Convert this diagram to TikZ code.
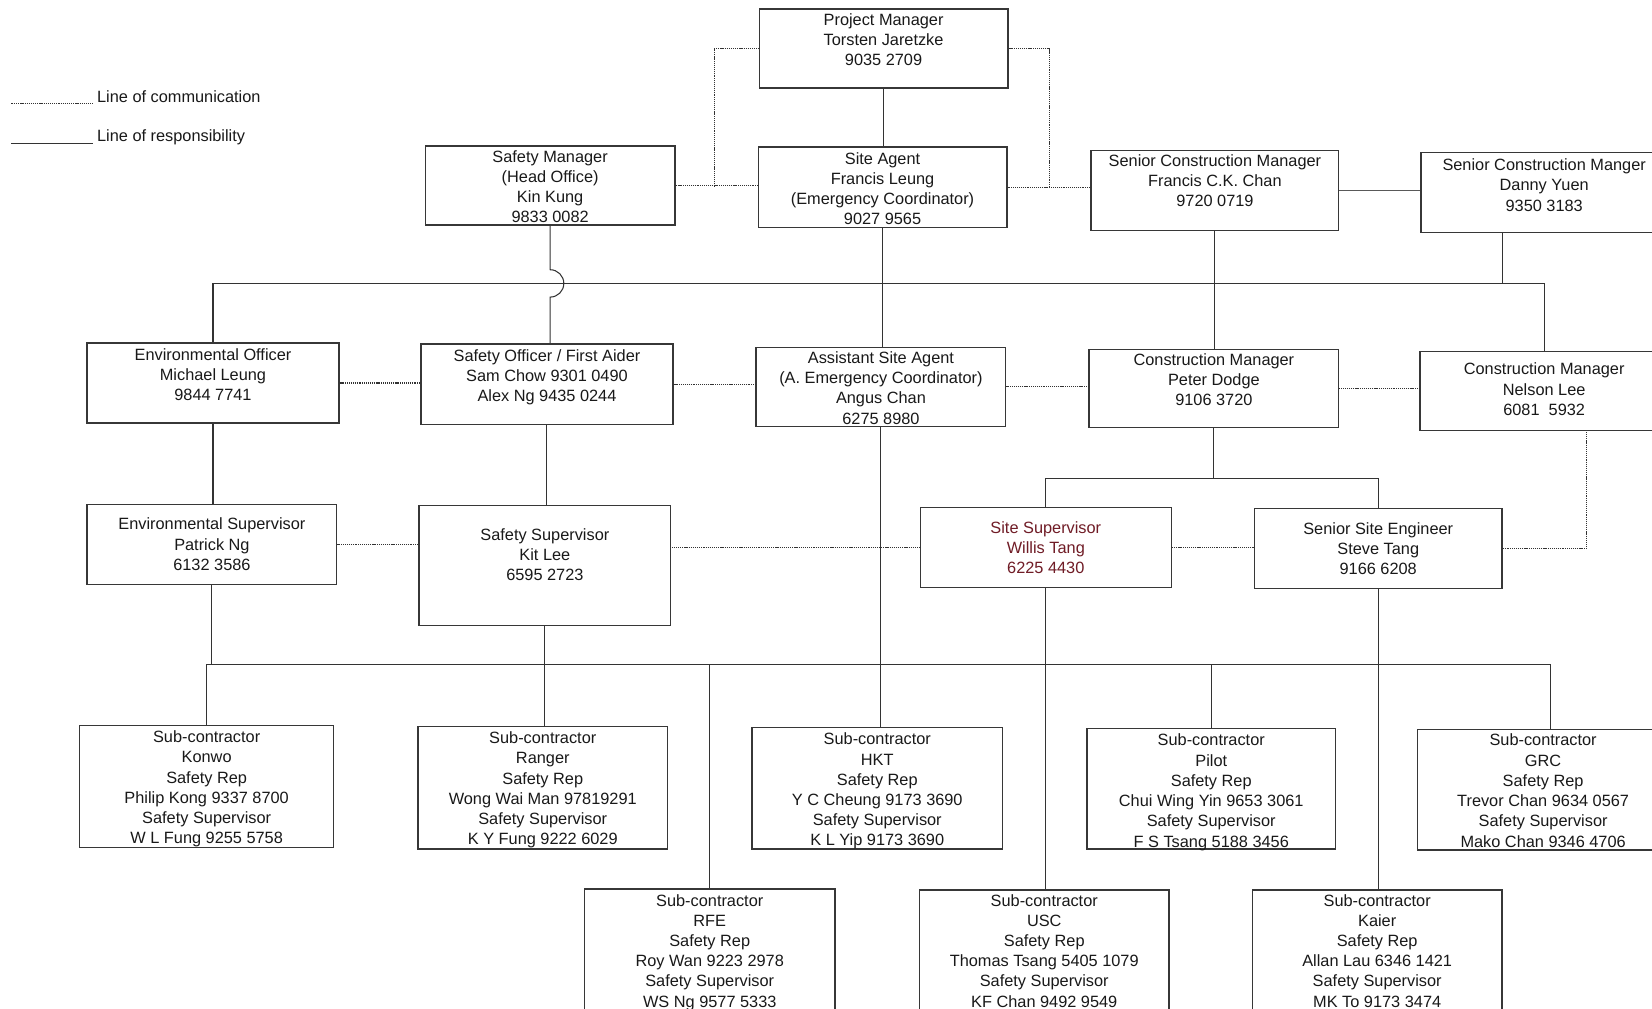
\documentclass[tikz,border=0pt]{standalone}
\usepackage{fontspec}
\setmainfont{Liberation Sans}
\definecolor{boxline}{RGB}{55,55,55}
\definecolor{supred}{RGB}{112,28,38}
\tikzset{
  box/.style 2 args={draw=boxline, line width=1.3pt, anchor=north west, inner sep=0pt,
    minimum width=#1, minimum height=#2},
  txt/.style={anchor=north, align=center, inner sep=0pt, yshift=-2.5pt, text=black!90,
    font=\fontsize{15.5}{19.2}\selectfont, execute at begin node=\strut},
  lbl/.style={anchor=base west, inner sep=0pt, text=black!90, font=\fontsize{15.5}{19.2}\selectfont},
  resp/.style={draw=black!80, line width=1pt},
  comm/.style={draw=black!80, line width=1.2pt, dash pattern=on 1pt off 0.8pt},
}
\begin{document}
\begin{tikzpicture}[x=1pt,y=-1pt]
    \clip (0,0) rectangle (1568,957);
    \fill[white] (0,0) rectangle (1568,957);

    % legend
    \node[lbl] (lcom) at (92,97) {Line of communication};
    \node[lbl] (lres) at (92,134) {Line of responsibility};
    \draw[comm] ([xshift=-4pt,yshift=-1.5pt]lcom.base west) -- ++(-78,0);
    \draw[resp] ([xshift=-4pt,yshift=-2pt]lres.base west) -- ++(-78,0);

    % top rows
    \node[box={236}{75}] (pm) at (720,8) {};
    \node[txt] (pm-t) at ([yshift=-2pt]pm.north) {Project Manager\\Torsten Jaretzke\\9035 2709};
    \node[box={237}{75}] (sm) at (403,138) {};
    \node[txt] (sm-t) at ([yshift=-2pt]sm.north) {Safety Manager\\(Head Office)\\Kin Kung\\9833 0082};
    \node[box={236}{76}] (sa) at (719,139) {};
    \node[txt] (sa-t) at ([yshift=-3pt]sa.north) {Site Agent\\Francis Leung\\(Emergency Coordinator)\\9027 9565};
    \node[box={235}{76}] (scm1) at (1035,142) {};
    \node[txt] (scm1-t) at ([yshift=-2pt]scm1.north) {Senior Construction Manager\\Francis C.K. Chan\\9720 0719};
    \node[box={234}{76}] (scm2) at (1348,144) {};
    \node[txt] (scm2-t) at ([yshift=-4pt]scm2.north) {Senior Construction Manger\\Danny Yuen\\9350 3183};

    \node[box={239}{76}] (eo) at (82,325) {};
    \node[txt] (eo-t) at ([yshift=-3pt]eo.north) {Environmental Officer\\Michael Leung\\9844 7741};
    \node[box={239}{76}] (so) at (399,326) {};
    \node[txt] (so-t) at ([yshift=-3pt]so.north) {Safety Officer / First Aider\\Sam Chow 9301 0490\\Alex Ng 9435 0244};
    \node[box={237}{75}] (asa) at (717,329) {};
    \node[txt] (asa-t) at ([yshift=-2pt]asa.north) {Assistant Site Agent\\(A. Emergency Coordinator)\\Angus Chan\\6275 8980};
    \node[box={237}{74}] (cm1) at (1033,331) {};
    \node[txt] (cm1-t) at ([yshift=-2pt]cm1.north) {Construction Manager\\Peter Dodge\\9106 3720};
    \node[box={236}{75}] (cm2) at (1347,333) {};
    \node[txt] (cm2-t) at ([yshift=-9pt]cm2.north) {Construction Manager\\Nelson Lee\\6081\ \ 5932};

    \node[box={237}{76}] (es) at (82,478) {};
    \node[txt] (es-t) at ([yshift=-11pt]es.north) {Environmental Supervisor\\Patrick Ng\\6132 3586};
    \node[box={239}{114}] (ss) at (397,479) {};
    \node[txt] (ss-t) at ([yshift=-20pt]ss.north) {Safety Supervisor\\Kit Lee\\6595 2723};
    \node[box={238}{76}] (sisup) at (873,481) {};
    \node[txt, text=supred] (sisup-t) at ([yshift=-11pt]sisup.north) {Site Supervisor\\Willis Tang\\6225 4430};
    \node[box={235}{76}] (sse) at (1190,482) {};
    \node[txt] (sse-t) at ([yshift=-11pt]sse.north) {Senior Site Engineer\\Steve Tang\\9166 6208};

    % sub-contractors
    \node[box={241}{116}] (konwo) at (75,688) {};
    \node[txt] (konwo-t) at ([yshift=-3pt]konwo.north) {Sub-contractor\\Konwo\\Safety Rep\\Philip Kong 9337 8700\\Safety Supervisor\\W L Fung 9255 5758};
    \node[box={237}{116}] (ranger) at (396,689) {};
    \node[txt] (ranger-t) at ([yshift=-3pt]ranger.north) {Sub-contractor\\Ranger\\Safety Rep\\Wong Wai Man 97819291\\Safety Supervisor\\K Y Fung 9222 6029};
    \node[box={238}{115}] (hkt) at (713,690) {};
    \node[txt] (hkt-t) at ([yshift=-3pt]hkt.north) {Sub-contractor\\HKT\\Safety Rep\\Y C Cheung 9173 3690\\Safety Supervisor\\K L Yip 9173 3690};
    \node[box={236}{114}] (pilot) at (1031,691) {};
    \node[txt] (pilot-t) at ([yshift=-3pt]pilot.north) {Sub-contractor\\Pilot\\Safety Rep\\Chui Wing Yin 9653 3061\\Safety Supervisor\\F S Tsang 5188 3456};
    \node[box={238}{114}] (grc) at (1345,692) {};
    \node[txt] (grc-t) at ([yshift=-2pt]grc.north) {Sub-contractor\\GRC\\Safety Rep\\Trevor Chan 9634 0567\\Safety Supervisor\\Mako Chan 9346 4706};
    \node[box={238}{118}] (rfe) at (554,843) {};
    \node[txt] (rfe-t) at ([yshift=-3pt]rfe.north) {Sub-contractor\\RFE\\Safety Rep\\Roy Wan 9223 2978\\Safety Supervisor\\WS Ng 9577 5333};
    \node[box={237}{118}] (usc) at (872,844) {};
    \node[txt] (usc-t) at ([yshift=-2pt]usc.north) {Sub-contractor\\USC\\Safety Rep\\Thomas Tsang 5405 1079\\Safety Supervisor\\KF Chan 9492 9549};
    \node[box={237}{118}] (kaier) at (1188,844) {};
    \node[txt] (kaier-t) at ([yshift=-2pt]kaier.north) {Sub-contractor\\Kaier\\Safety Rep\\Allan Lau 6346 1421\\Safety Supervisor\\MK To 9173 3474};

    \coordinate (jl) at (678,177);
    \coordinate (jr) at (996,178);
    \coordinate (bus1) at (0,269);
    \coordinate (jump1) at (0,256);
    \coordinate (br) at (0,454);
    \coordinate (bus2) at (0,631);
    \coordinate (scm2-drop) at ([xshift=-40pt]scm2.south);
    \coordinate (cm2-drop) at ([xshift=40pt]cm2.south);
    \coordinate (grc-top) at ([xshift=7pt]grc.north);

    % lines of communication
    \draw[comm] (pm.west) -| (jl);
    \draw[comm] (pm.east) -| (jr);
    \draw[comm] (sm.east) -- (sm.east -| sa.west);
    \draw[comm] (sa.east) -- (sa.east -| scm1.west);
    \draw[comm] (eo.east) -- (eo.east -| so.west);
    \draw[comm] (so.east) -- (so.east -| asa.west);
    \draw[comm] (asa.east) -- (asa.east -| cm1.west);
    \draw[comm] (cm1.east) -- (cm1.east -| cm2.west);
    \draw[comm] (es.east) -- (es.east -| ss.west);
    \draw[comm] (sisup.west) -- (sisup.west -| ss.east);
    \draw[comm] (sisup.east) -- (sisup.east -| sse.west);
    \draw[comm] (sse.east) -| (cm2-drop);

    % lines of responsibility
    \draw[resp] (pm.south) -- (pm.south |- sa.north);
    \draw[resp, draw=black!65, line width=1.5pt] (scm1.east) -- (scm1.east -| scm2.west);
    \draw[resp] (eo.north) -- (eo.north |- bus1) -- (cm2.north |- bus1) -- (cm2.north);
    \draw[resp] (sm.south) -- (sm.south |- jump1) arc[start angle=-90, end angle=90, radius=13] -- (sm.south |- so.north);
    \draw[resp] (sa.south) -- (sa.south |- asa.north);
    \draw[resp] (scm1.south) -- (scm1.south |- cm1.north);
    \draw[resp] (scm2-drop) -- (scm2-drop |- bus1);
    \draw[resp] (eo.south) -- (eo.south |- es.north);
    \draw[resp] (so.south) -- (so.south |- ss.north);
    \draw[resp] (cm1.south) -- (cm1.south |- br);
    \draw[resp] (sisup.north) |- (sse.north |- br) -- (sse.north);
    \draw[resp] (es.south) -- (es.south |- bus2);
    \draw[resp] (konwo.north) -- (konwo.north |- bus2) -- (grc-top |- bus2) -- (grc-top);
    \draw[resp] (ss.south) -- (ss.south |- ranger.north);
    \draw[resp] (rfe.north) -- (rfe.north |- bus2);
    \draw[resp] (asa.south) -- (asa.south |- hkt.north);
    \draw[resp] (sisup.south) -- (sisup.south |- usc.north);
    \draw[resp] (pilot.north) -- (pilot.north |- bus2);
    \draw[resp] (sse.south) -- (sse.south |- kaier.north);
\end{tikzpicture}
\end{document}
